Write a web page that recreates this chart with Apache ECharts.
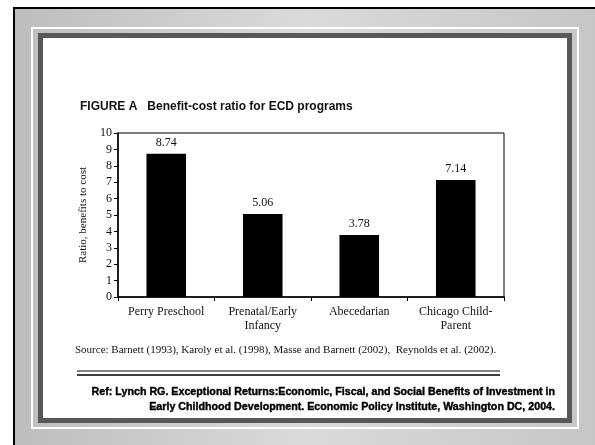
<!DOCTYPE html>
<html>
<head>
<meta charset="utf-8">
<script src="https://cdn.jsdelivr.net/npm/echarts@6/dist/echarts.min.js"></script>
<style>
  html, body { margin: 0; padding: 0; background: #fff; }
  #chart { width: 595px; height: 445px; }
</style>
</head>
<body>
<div id="chart"></div>
<script>
// 数据
const programs = ['Perry Preschool', 'Prenatal/Early\nInfancy', 'Abecedarian', 'Chicago Child-\nParent']
const ratios = [8.74, 5.06, 3.78, 7.14]
const yTicks = [0, 10, 1] // min, max, interval

const serif = '"Liberation Serif", "Times New Roman", serif'
const sans = '"Liberation Sans", Arial, sans-serif'

const myChart = echarts.init(document.getElementById('chart'))

const option = {
  animation: false,
  backgroundColor: '#fff',
  title: {
    text: 'FIGURE A   Benefit-cost ratio for ECD programs',
    left: 80,
    top: 101,
    padding: 0,
    textStyle: { fontFamily: sans, fontSize: 12, fontWeight: 'bold', color: '#111' }
  },
  grid: {
    left: 118,
    top: 133,
    right: 91,
    bottom: 148,
    show: true,
    borderColor: '#000',
    borderWidth: 1,
    backgroundColor: 'transparent'
  },
  xAxis: {
    type: 'category',
    data: programs,
    axisLine: { lineStyle: { color: '#000', width: 1.5 } },
    axisTick: { show: true, length: 4, interval: 0, lineStyle: { color: '#000' } },
    axisLabel: { interval: 0, fontFamily: serif, fontSize: 12, color: '#111', lineHeight: 14, margin: 8 },
    splitLine: { show: false }
  },
  yAxis: {
    type: 'value',
    min: yTicks[0],
    max: yTicks[1],
    interval: yTicks[2],
    name: 'Ratio, benefits to cost',
    nameLocation: 'middle',
    nameRotate: 90,
    nameGap: 29,
    nameTextStyle: { fontFamily: serif, fontSize: 11, color: '#111' },
    axisLine: { show: true, lineStyle: { color: '#000', width: 1.5 } },
    axisTick: { show: true, length: 4, lineStyle: { color: '#000' } },
    axisLabel: { fontFamily: serif, fontSize: 12, color: '#111', margin: 6 },
    splitLine: { show: false }
  },
  series: [{
    type: 'bar',
    data: ratios,
    barWidth: '41%',
    itemStyle: { color: '#000' },
    label: {
      show: true,
      position: 'top',
      distance: 5,
      fontFamily: serif,
      fontSize: 12,
      color: '#111',
      formatter: p => p.value.toFixed(2)
    }
  }],
  graphic: {
    elements: [
      // 外框
      { type: 'rect', z: -10, shape: { x: 15, y: 9, width: 580, height: 436 },
        style: { fill: new echarts.graphic.LinearGradient(0, 0, 1, 0, [
          { offset: 0, color: '#bdbdbd' }, { offset: 0.5, color: '#dadada' }, { offset: 1, color: '#c6c6c6' }]) } },
      { type: 'rect', z: -9, shape: { x: 13, y: 7, width: 582, height: 2 }, style: { fill: '#000' } },
      { type: 'rect', z: -9, shape: { x: 13, y: 7, width: 2, height: 438 }, style: { fill: '#000' } },
      { type: 'rect', z: -9, shape: { x: 32, y: 28, width: 546, height: 400 }, style: { fill: 'none', stroke: '#fff', lineWidth: 2 } },
      { type: 'rect', z: -8, shape: { x: 38, y: 33, width: 534, height: 390 }, style: { fill: '#585858' } },
      { type: 'rect', z: -7, shape: { x: 43, y: 38, width: 524, height: 380 }, style: { fill: '#fff' } },
      // 来源
      { type: 'text', z: 10, x: 75, y: 350,
        style: { text: 'Source: Barnett (1993), Karoly et al. (1998), Masse and Barnett (2002),  Reynolds et al. (2002).',
          fontFamily: serif, fontSize: 11, fill: '#111', verticalAlign: 'middle' } },
      { type: 'line', z: 10, shape: { x1: 77, y1: 371, x2: 500, y2: 371 }, style: { stroke: '#000', lineWidth: 1 } },
      { type: 'line', z: 10, shape: { x1: 77, y1: 375, x2: 500, y2: 375 }, style: { stroke: '#000', lineWidth: 1.5 } },
      { type: 'text', z: 10, x: 555, y: 392,
        style: { text: 'Ref: Lynch RG. Exceptional Returns:Economic, Fiscal, and Social Benefits of Investment in',
          fontFamily: sans, fontSize: 10.7, fontWeight: 'bold', fill: '#000', stroke: '#000', lineWidth: 0.4,
          align: 'right', verticalAlign: 'middle' } },
      { type: 'text', z: 10, x: 555, y: 407,
        style: { text: 'Early Childhood Development. Economic Policy Institute, Washington DC, 2004.',
          fontFamily: sans, fontSize: 10.7, fontWeight: 'bold', fill: '#000', stroke: '#000', lineWidth: 0.4,
          align: 'right', verticalAlign: 'middle' } }
    ]
  }
}

myChart.setOption(option)
</script>
</body>
</html>
